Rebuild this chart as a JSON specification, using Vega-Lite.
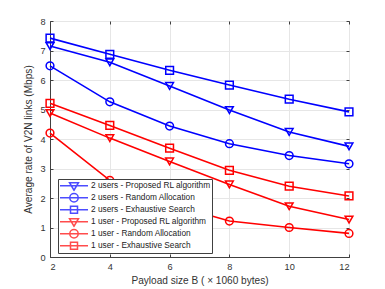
{
  "$schema": "https://vega.github.io/schema/vega-lite/v6.json",
  "width": 299,
  "height": 236,
  "autosize": "none",
  "padding": {"left": 50, "top": 21, "right": 36, "bottom": 32},
  "background": "white",
  "config": {
    "font": "Liberation Sans",
    "view": {"stroke": "#404040", "strokeWidth": 1},
    "axis": {
      "labelFont": "Liberation Sans",
      "titleFont": "Liberation Sans",
      "labelFontSize": 9.2,
      "titleFontSize": 10.1,
      "titleFontWeight": "normal",
      "labelColor": "#333333",
      "titleColor": "#333333",
      "domainColor": "#404040",
      "tickColor": "#404040",
      "gridColor": "#e6e6e6",
      "gridOpacity": 1,
      "tickSize": -3,
      "labelPadding": 8
    }
  },
  "data": {
    "values": [
      {"x": 2, "y": 7.15, "series": "2 users - Proposed RL algorithm"},
      {"x": 4, "y": 6.6, "series": "2 users - Proposed RL algorithm"},
      {"x": 6, "y": 5.8, "series": "2 users - Proposed RL algorithm"},
      {"x": 8, "y": 4.98, "series": "2 users - Proposed RL algorithm"},
      {"x": 10, "y": 4.24, "series": "2 users - Proposed RL algorithm"},
      {"x": 12, "y": 3.75, "series": "2 users - Proposed RL algorithm"},
      {"x": 2, "y": 6.48, "series": "2 users - Random Allocation"},
      {"x": 4, "y": 5.26, "series": "2 users - Random Allocation"},
      {"x": 6, "y": 4.44, "series": "2 users - Random Allocation"},
      {"x": 8, "y": 3.84, "series": "2 users - Random Allocation"},
      {"x": 10, "y": 3.44, "series": "2 users - Random Allocation"},
      {"x": 12, "y": 3.16, "series": "2 users - Random Allocation"},
      {"x": 2, "y": 7.42, "series": "2 users - Exhaustive Search"},
      {"x": 4, "y": 6.87, "series": "2 users - Exhaustive Search"},
      {"x": 6, "y": 6.33, "series": "2 users - Exhaustive Search"},
      {"x": 8, "y": 5.83, "series": "2 users - Exhaustive Search"},
      {"x": 10, "y": 5.35, "series": "2 users - Exhaustive Search"},
      {"x": 12, "y": 4.92, "series": "2 users - Exhaustive Search"},
      {"x": 2, "y": 4.88, "series": "1 user - Proposed RL algorithm"},
      {"x": 4, "y": 4.03, "series": "1 user - Proposed RL algorithm"},
      {"x": 6, "y": 3.24, "series": "1 user - Proposed RL algorithm"},
      {"x": 8, "y": 2.46, "series": "1 user - Proposed RL algorithm"},
      {"x": 10, "y": 1.72, "series": "1 user - Proposed RL algorithm"},
      {"x": 12, "y": 1.27, "series": "1 user - Proposed RL algorithm"},
      {"x": 2, "y": 4.2, "series": "1 user - Random Allocation"},
      {"x": 4, "y": 2.6, "series": "1 user - Random Allocation"},
      {"x": 6, "y": 1.8, "series": "1 user - Random Allocation"},
      {"x": 8, "y": 1.22, "series": "1 user - Random Allocation"},
      {"x": 10, "y": 1.0, "series": "1 user - Random Allocation"},
      {"x": 12, "y": 0.8, "series": "1 user - Random Allocation"},
      {"x": 2, "y": 5.21, "series": "1 user - Exhaustive Search"},
      {"x": 4, "y": 4.46, "series": "1 user - Exhaustive Search"},
      {"x": 6, "y": 3.69, "series": "1 user - Exhaustive Search"},
      {"x": 8, "y": 2.94, "series": "1 user - Exhaustive Search"},
      {"x": 10, "y": 2.4, "series": "1 user - Exhaustive Search"},
      {"x": 12, "y": 2.07, "series": "1 user - Exhaustive Search"}
    ]
  },
  "layer": [
    {
      "mark": {"type": "line", "strokeWidth": 1.6},
      "encoding": {
        "x": {
          "field": "x", "type": "quantitative",
          "scale": {"domain": [2, 12], "nice": false, "zero": false},
          "axis": {"values": [2, 4, 6, 8, 10, 12], "title": "Payload size B ( × 1060 bytes)", "grid": true, "titlePadding": 4}
        },
        "y": {
          "field": "y", "type": "quantitative",
          "scale": {"domain": [0, 8], "nice": false},
          "axis": {"values": [0, 1, 2, 3, 4, 5, 6, 7, 8], "title": "Average rate of V2N links (Mbps)", "grid": true, "titlePadding": 6}
        },
        "color": {
          "field": "series", "type": "nominal", "legend": null,
          "scale": {
            "domain": ["2 users - Proposed RL algorithm", "2 users - Random Allocation", "2 users - Exhaustive Search", "1 user - Proposed RL algorithm", "1 user - Random Allocation", "1 user - Exhaustive Search"],
            "range": ["#0000ff", "#0000ff", "#0000ff", "#ff0000", "#ff0000", "#ff0000"]
          }
        }
      }
    },
    {
      "mark": {"type": "point", "filled": false, "strokeWidth": 1.5, "size": 60, "opacity": 1},
      "encoding": {
        "x": {"field": "x", "type": "quantitative", "axis": null},
        "y": {"field": "y", "type": "quantitative", "axis": null},
        "color": {"field": "series", "type": "nominal", "legend": null},
        "shape": {
          "field": "series", "type": "nominal", "legend": null,
          "scale": {
            "domain": ["2 users - Proposed RL algorithm", "2 users - Random Allocation", "2 users - Exhaustive Search", "1 user - Proposed RL algorithm", "1 user - Random Allocation", "1 user - Exhaustive Search"],
            "range": ["triangle-down", "circle", "square", "triangle-down", "circle", "square"]
          }
        }
      }
    },
    {
      "transform": [{"filter": "false"}],
      "mark": {"type": "point", "filled": false, "strokeWidth": 1.5},
      "encoding": {
        "x": {
          "field": "x", "type": "quantitative",
          "axis": {"orient": "top", "values": [2, 4, 6, 8, 10, 12], "labels": false, "domain": false, "grid": false, "title": null}
        },
        "y": {
          "field": "y", "type": "quantitative",
          "axis": {"orient": "right", "values": [0, 1, 2, 3, 4, 5, 6, 7, 8], "labels": false, "domain": false, "grid": false, "title": null}
        },
        "shape": {
          "field": "series", "type": "nominal",
          "scale": {
            "domain": ["2 users - Proposed RL algorithm", "2 users - Random Allocation", "2 users - Exhaustive Search", "1 user - Proposed RL algorithm", "1 user - Random Allocation", "1 user - Exhaustive Search"],
            "range": [
              "M-1,0H1M-0.32,-0.22L0.32,-0.22L0,0.32Z",
              "M-1,0H1M0.3,0A0.3,0.3,0,1,1,-0.3,0A0.3,0.3,0,1,1,0.3,0Z",
              "M-1,0H1M-0.25,-0.25H0.25V0.25H-0.25Z",
              "M-1,0H1M-0.32,-0.22L0.32,-0.22L0,0.32Z",
              "M-1,0H1M0.3,0A0.3,0.3,0,1,1,-0.3,0A0.3,0.3,0,1,1,0.3,0Z",
              "M-1,0H1M-0.25,-0.25H0.25V0.25H-0.25Z"
            ]
          },
          "legend": {
            "title": null,
            "orient": "none",
            "legendX": 8,
            "legendY": 158,
            "fillColor": "white",
            "strokeColor": "#404040",
            "padding": 1,
            "rowPadding": 0,
            "symbolSize": 784,
            "symbolStrokeWidth": 1.5,
            "symbolFillColor": "transparent",
            "clipHeight": 11.5,
            "labelFontSize": 8.3,
            "labelFont": "Liberation Sans",
            "labelColor": "#222222",
            "labelOffset": 2,
            "labelLimit": 300
          }
        },
        "stroke": {
          "field": "series", "type": "nominal",
          "scale": {
            "domain": ["2 users - Proposed RL algorithm", "2 users - Random Allocation", "2 users - Exhaustive Search", "1 user - Proposed RL algorithm", "1 user - Random Allocation", "1 user - Exhaustive Search"],
            "range": ["#0000ff", "#0000ff", "#0000ff", "#ff0000", "#ff0000", "#ff0000"]
          },
          "legend": {
            "title": null,
            "orient": "none",
            "legendX": 8,
            "legendY": 158,
            "fillColor": "white",
            "strokeColor": "#404040",
            "padding": 1,
            "rowPadding": 0,
            "symbolSize": 784,
            "symbolStrokeWidth": 1.5,
            "clipHeight": 11.5,
            "labelFontSize": 8.3,
            "labelFont": "Liberation Sans",
            "labelColor": "#222222",
            "labelOffset": 2,
            "labelLimit": 300
          }
        }
      }
    }
  ],
  "resolve": {
    "scale": {"shape": "independent", "stroke": "independent"},
    "axis": {"x": "independent", "y": "independent"}
  }
}
